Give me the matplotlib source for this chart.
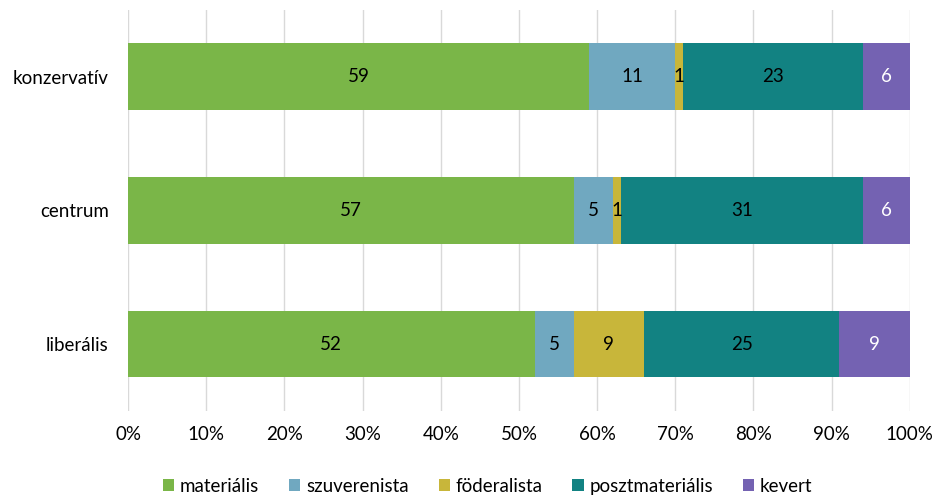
import matplotlib.pyplot as plt
from matplotlib.ticker import PercentFormatter

plt.rcParams['font.family'] = ['Lato', 'DejaVu Sans']

categories = ['konzervatív', 'centrum', 'liberális']
series_names = ['materiális', 'szuverenista', 'föderalista', 'posztmateriális', 'kevert']
values = {
    'materiális': [59, 57, 52],
    'szuverenista': [11, 5, 5],
    'föderalista': [1, 1, 9],
    'posztmateriális': [23, 31, 25],
    'kevert': [6, 6, 9],
}
colors = ['#7AB648', '#70A8C0', '#C8B63A', '#128282', '#7462B2']
text_colors = ['black', 'black', 'black', 'black', 'white']
fs = 13.5

fig = plt.figure(figsize=(9.35, 4.98), dpi=100)
ax = fig.add_axes([0.137, 0.175, 0.836, 0.805])

ypos = list(range(len(categories)))
left = [0] * len(categories)
for name, col, tcol in zip(series_names, colors, text_colors):
    vals = values[name]
    bars = ax.barh(ypos, vals, left=left, height=0.5, color=col, label=name, zorder=2)
    for b, v in zip(bars, vals):
        ax.text(b.get_x() + b.get_width() / 2, b.get_y() + b.get_height() / 2, str(v),
                ha='center', va='center', fontsize=fs, color=tcol, zorder=3)
    left = [l + v for l, v in zip(left, vals)]

ax.set_xlim(0, 100)
ax.set_ylim(-0.5, 2.5)
ax.invert_yaxis()
ax.set_yticks(ypos)
ax.set_yticklabels(categories, fontsize=fs)
ax.set_xticks(range(0, 101, 10))
ax.xaxis.set_major_formatter(PercentFormatter(decimals=0))
ax.tick_params(axis='x', labelsize=fs, length=0, pad=11)
ax.tick_params(axis='y', length=0, pad=14)
ax.grid(axis='x', color='#D9D9D9', linewidth=1, zorder=0)
for s in ax.spines.values():
    s.set_visible(False)

ax.legend(loc='lower center', bbox_to_anchor=(0.46, -0.252), ncol=5, frameon=False,
          fontsize=fs, handlelength=0.6, handleheight=0.6, handletextpad=0.3,
          columnspacing=1.6)

fig.savefig('out.png', dpi=100)
